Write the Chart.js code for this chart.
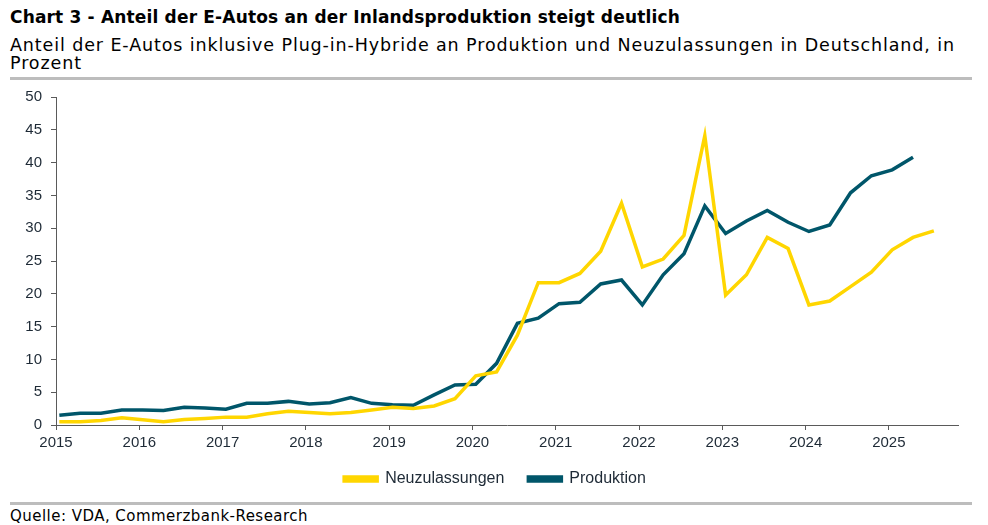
<!DOCTYPE html>
<html><head><meta charset="utf-8">
<script src="https://cdn.jsdelivr.net/npm/chart.js@4"></script>
<style>
html,body{margin:0;padding:0;background:#fff;width:988px;height:525px;overflow:hidden;font-family:"DejaVu Sans",sans-serif;color:#000}
.fit{white-space:nowrap;display:inline-block}
#title{position:absolute;left:10px;top:7px;font-size:17px;font-weight:bold;white-space:nowrap}
#sub{position:absolute;left:10px;top:37px;font-size:17.5px;line-height:17.5px;white-space:nowrap}
.rule{position:absolute;left:10px;width:962px;height:3px;background:#bdbdbd}
#src{position:absolute;left:10px;top:507px;font-size:15px;white-space:nowrap}
#wrap{position:absolute;left:0;top:79px;width:988px;height:418px}
</style></head><body>
<div id="title"><span class="fit" data-w="670">Chart 3 - Anteil der E-Autos an der Inlandsproduktion steigt deutlich</span></div>
<div id="sub"><span class="fit" data-w="945">Anteil der E-Autos inklusive Plug-in-Hybride an Produktion und Neuzulassungen in Deutschland, in</span><br><span class="fit" data-ref="1">Prozent</span></div>
<div class="rule" style="top:77px"></div>
<div id="wrap"><canvas id="c"></canvas></div>
<div class="rule" style="top:502px"></div>
<div id="src"><span class="fit" data-w="298">Quelle: VDA, Commerzbank-Research</span></div>
<script>
// Quarterly data, starting 2015 Q1
const startYear = 2015;
const neuzulassungen = [0.5,0.5,0.7,1.1, 0.8,0.5,0.85,1.0, 1.2,1.2,1.7,2.1, 1.9,1.7,1.9,2.3, 2.7,2.5,2.9,4.0, 7.5,8.1,13.7,21.7, 21.7,23.1,26.5,33.8, 24.1,25.3,28.9,44.1, 19.8,22.9,28.6,26.9, 18.3,18.9,21.1,23.3, 26.7,28.6,29.6];
const produktion = [1.5,1.8,1.8,2.3, 2.3,2.2,2.7,2.6, 2.4,3.3,3.3,3.6, 3.2,3.4,4.2,3.3, 3.1,3.0,4.6,6.1, 6.2,9.4,15.5,16.3, 18.5,18.7,21.5,22.1, 18.3,22.9,26.1,33.4, 29.2,31.1,32.7,30.9, 29.5,30.5,35.4,38.0, 38.9,40.8];
const yearTicks = [2015,2016,2017,2018,2019,2020,2021,2022,2023,2024,2025];
const yTicks = [0,5,10,15,20,25,30,35,40,45,50];

// fit text widths to the reference layout via letter-spacing
let subSpacing = 0;
document.querySelectorAll('.fit[data-w]').forEach(el => {
  const target = +el.dataset.w;
  const w = el.getBoundingClientRect().width;
  const n = el.textContent.length;
  const ls = (target - w) / n;
  el.style.letterSpacing = ls + 'px';
  if (el.parentNode.id === 'sub') subSpacing = ls;
});
document.querySelector('.fit[data-ref]').style.letterSpacing = subSpacing + 'px';

function toPoints(arr){ return arr.map((v,i)=>({x: startYear + Math.floor(i/4) + (i%4)/4 + 0.04, y: v})); }

const yellow = '#FFD600';
const teal = '#00566A';
const tickColor = '#1e2a36';
const axisColor = '#5a5a5a';

// nudge the legend horizontally to sit where the reference has it
const legendShift = {
  id: 'legendShift',
  afterLayout(chart) {
    const lg = chart.legend;
    if (lg) { lg.left += 16; lg.right += 16; }
  }
};

new Chart(document.getElementById('c'), {
  type: 'line',
  data: { datasets: [
    { label: 'Neuzulassungen', data: toPoints(neuzulassungen), borderColor: yellow, backgroundColor: yellow, borderWidth: 3.5, pointRadius: 0, tension: 0 },
    { label: 'Produktion', data: toPoints(produktion), borderColor: teal, backgroundColor: teal, borderWidth: 3.5, pointRadius: 0, tension: 0 }
  ]},
  plugins: [legendShift],
  options: {
    responsive: true, maintainAspectRatio: false, animation: false,
    layout: { padding: { top: 18, right: 30, left: 0, bottom: 0 } },
    plugins: {
      tooltip: { enabled: false },
      legend: { position: 'bottom', labels: { boxWidth: 33, boxHeight: 4, padding: 24, color: tickColor, font: { family: 'Liberation Sans', size: 16 } } }
    },
    scales: {
      x: {
        type: 'linear', min: 2015, max: 2025.83,
        afterBuildTicks: s => { s.ticks = yearTicks.map(v => ({ value: v })); },
        ticks: { color: tickColor, font: { family: 'Liberation Sans', size: 15 }, padding: 4, callback: v => String(v), maxRotation: 0 },
        grid: { display: true, drawOnChartArea: false, drawTicks: true, tickLength: 5, color: axisColor },
        border: { display: true, color: axisColor, width: 1 },
        afterFit: s => { s.height = 22; }
      },
      y: {
        min: 0, max: 50,
        afterBuildTicks: s => { s.ticks = yTicks.map(v => ({ value: v })); },
        ticks: { color: tickColor, font: { family: 'Liberation Sans', size: 15 }, padding: 9 },
        grid: { display: true, drawOnChartArea: false, drawTicks: true, tickLength: 5, color: axisColor },
        border: { display: true, color: axisColor, width: 1 },
        afterFit: s => { s.width = 56; }
      }
    }
  }
});
</script>
</body></html>
